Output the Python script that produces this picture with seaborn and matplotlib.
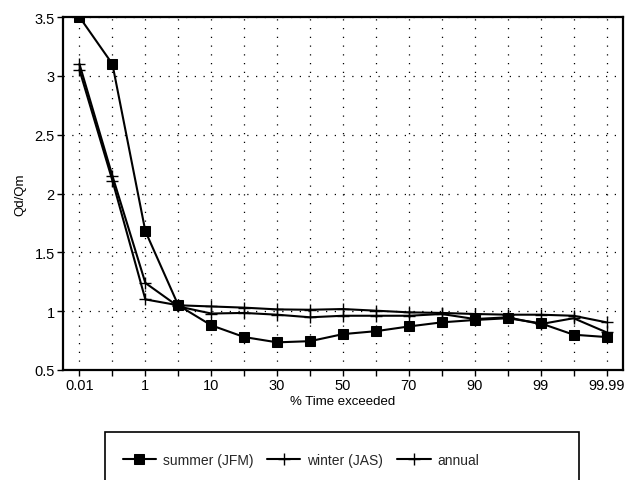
import matplotlib
matplotlib.use("Agg")
import matplotlib.pyplot as plt
from matplotlib.patches import Rectangle
import seaborn as sns
import pandas as pd

sns.set_theme(style="white")
plt.rcParams['font.family'] = ['Liberation Sans', 'DejaVu Sans']

# % time exceeded (categorical, evenly spaced on the chart)
exceed = ["0.01", "0.1", "1", "5", "10", "20", "30", "40", "50",
          "60", "70", "80", "90", "95", "99", "99.9", "99.99"]
tick_labels = ["0.01", "", "1", "", "10", "", "30", "", "50",
               "", "70", "", "90", "", "99", "", "99.99"]

summer = [3.50, 3.10, 1.68, 1.05, 0.88, 0.78, 0.735, 0.745, 0.805,
          0.83, 0.87, 0.905, 0.925, 0.94, 0.897, 0.80, 0.78]
winter = [3.10, 2.15, 1.24, 1.04, 0.98, 0.985, 0.97, 0.948, 0.961,
          0.961, 0.961, 0.976, 0.933, 0.948, 0.89, 0.94, 0.82]
annual = [3.05, 2.11, 1.10, 1.05, 1.04, 1.03, 1.015, 1.012, 1.018,
          1.004, 0.99, 0.985, 0.976, 0.97, 0.97, 0.961, 0.905]

d = pd.DataFrame({"pos": range(len(exceed)),
                  "summer (JFM)": summer,
                  "winter (JAS)": winter,
                  "annual": annual})

fig = plt.figure(figsize=(6.27, 4.81), dpi=100)
ax = fig.add_axes([63/627, 1-371/481, (623-63)/627, (371-18)/481])

sns.lineplot(data=d, x="pos", y="summer (JFM)", ax=ax, color="black", lw=1.5,
             marker="s", ms=7, mec="black", mfc="black", label="summer (JFM)",
             legend=False)
sns.lineplot(data=d, x="pos", y="winter (JAS)", ax=ax, color="black", lw=1.5,
             marker="+", ms=8, mew=1, mec="black", label="winter (JAS)",
             legend=False)
sns.lineplot(data=d, x="pos", y="annual", ax=ax, color="black", lw=1.5,
             marker="+", ms=8, mew=1, mec="black", label="annual", legend=False)

ax.set_xlim(-0.5, len(exceed) - 0.5)
ax.set_ylim(0.5, 3.5)
ax.set_xticks(range(len(exceed)))
ax.set_xticklabels(tick_labels)
ax.set_yticks([0.5, 1, 1.5, 2, 2.5, 3, 3.5])
ax.set_yticklabels(["0.5", "1", "1.5", "2", "2.5", "3", "3.5"])
ax.tick_params(axis="both", direction="out", length=4, width=1, color="black",
               labelsize=10.5, labelcolor="black", pad=2)
ax.tick_params(bottom=True, left=True)
ax.grid(True, color="black", lw=0.9, linestyle=(0, (1, 6)))
for s in ax.spines.values():
    s.set_color("black")
    s.set_linewidth(1.6)

ax.set_xlabel("% Time exceeded", fontsize=9.5, color="black", labelpad=2)
ax.set_ylabel("Qd/Qm", fontsize=9.5, color="black", labelpad=6)

# legend box below the plot
fig.patches.append(Rectangle((105/627, -0.05), (579-105)/627, 0.05 + 1-433/481,
                             transform=fig.transFigure, fill=False,
                             edgecolor="black", lw=1.2))
h, l = ax.get_legend_handles_labels()
fig.legend(h, l, loc="center left", bbox_to_anchor=(110/627, 1-461/481),
           ncol=3, frameon=False, fontsize=10, handlelength=2.4,
           columnspacing=1.0, handletextpad=0.5)

fig.savefig("out.png", dpi=100)
